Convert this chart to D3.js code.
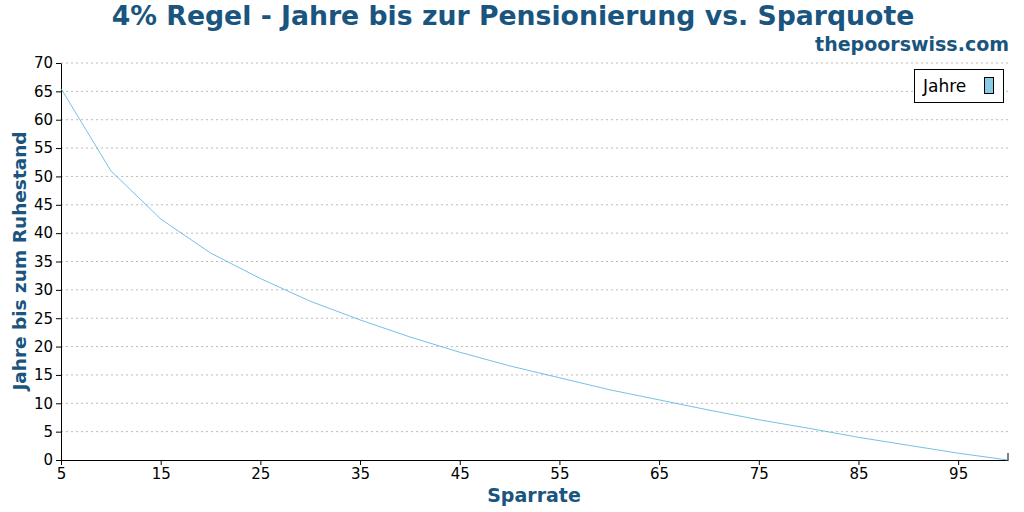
<!DOCTYPE html>
<html><head><meta charset="utf-8">
<script src="https://cdn.jsdelivr.net/npm/d3@7"></script>
<style>body{margin:0;background:#fff}text{font-family:"DejaVu Sans",sans-serif}</style>
</head><body><svg id="c" width="1024" height="512"></svg>
<script>
const rates=[5,10,15,20,25,30,35,40,45,50,55,60,65,70,75,80,85,90,95,100];
const years=[65.5,51,42.5,36.5,32,28,24.7,21.7,19,16.6,14.5,12.4,10.6,8.8,7.1,5.6,4,2.6,1.2,0];
const xTicks=[5,15,25,35,45,55,65,75,85,95];
const yTicks=d3.range(0,71,5);
const col="#1a5580";
const svg=d3.select("#c");
const x=d3.scaleLinear().domain([5,100]).range([61,1008]);
const y=d3.scaleLinear().domain([0,70]).range([460,63]);
svg.append("text").attr("x",513).attr("y",25).attr("text-anchor","middle").attr("font-size",26.7).attr("font-weight","bold").attr("fill",col).text("4% Regel - Jahre bis zur Pensionierung vs. Sparquote");
svg.append("text").attr("x",1009).attr("y",51).attr("text-anchor","end").attr("font-size",19).attr("font-weight","bold").attr("fill",col).text("thepoorswiss.com");
svg.append("g").selectAll("line").data(yTicks.filter(d=>d>0)).join("line")
 .attr("x1",61).attr("x2",1008).attr("y1",d=>y(d)).attr("y2",d=>y(d))
 .attr("stroke","#bbb").attr("stroke-dasharray","2,3");
const ya=svg.append("g").attr("transform","translate(61,0)").call(d3.axisLeft(y).tickValues(yTicks).tickSize(5).tickSizeOuter(0));
const xa=svg.append("g").attr("transform","translate(0,460)").call(d3.axisBottom(x).tickValues(xTicks).tickSize(5).tickSizeOuter(0));
[ya,xa].forEach(a=>{a.selectAll("text").attr("font-size",15).attr("fill","#000").style("font-family","DejaVu Sans");a.select(".domain").attr("stroke","#000");});
svg.append("line").attr("x1",1008).attr("x2",1008).attr("y1",460).attr("y2",453).attr("stroke","#000");
svg.append("path").datum(rates.map((r,i)=>[r,years[i]])).attr("fill","none").attr("stroke","#4fb3d9").attr("stroke-width",0.8)
 .attr("d",d3.line().x(d=>x(d[0])).y(d=>y(d[1])));
svg.append("text").attr("x",534).attr("y",502).attr("text-anchor","middle").attr("font-size",19).attr("font-weight","bold").attr("fill",col).text("Sparrate");
svg.append("text").attr("transform","translate(26,261) rotate(-90)").attr("text-anchor","middle").attr("font-size",18.5).attr("font-weight","bold").attr("fill",col).text("Jahre bis zum Ruhestand");
const lg=svg.append("g");
lg.append("rect").attr("x",914.5).attr("y",69.5).attr("width",89).attr("height",33).attr("fill","#fff").attr("stroke","#000");
lg.append("text").attr("x",923).attr("y",92).attr("font-size",17).text("Jahre");
lg.append("rect").attr("x",984.5).attr("y",77.5).attr("width",9).attr("height",16).attr("fill","#87cbe6").attr("stroke","#000");
</script></body></html>
